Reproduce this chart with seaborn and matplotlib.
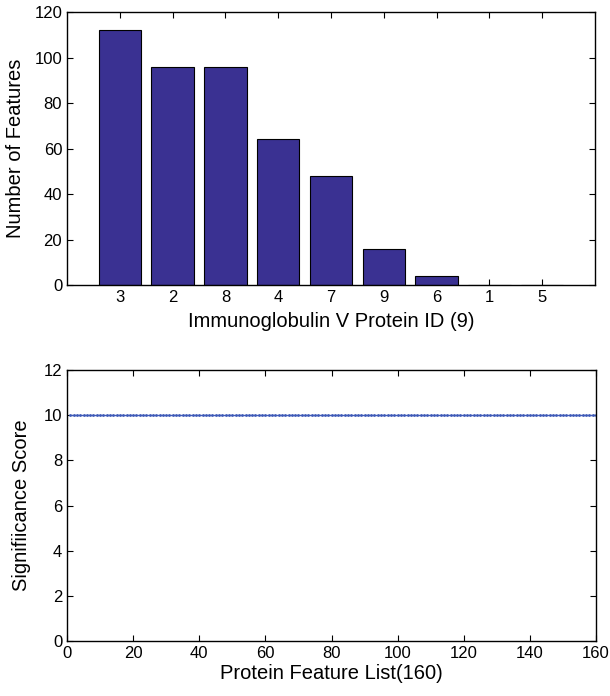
import matplotlib
matplotlib.use("Agg")
import matplotlib.pyplot as plt
import seaborn as sns
import numpy as np
import pandas as pd

sns.set_style("white")
plt.rcParams['font.family'] = ['Liberation Sans', 'DejaVu Sans']
plt.rcParams['axes.labelcolor'] = 'black'
plt.rcParams['text.color'] = 'black'

protein_ids = ["3", "2", "8", "4", "7", "9", "6", "1", "5"]
feature_counts = [112, 96, 96, 64, 48, 16, 4, 0, 0]

feature_index = list(range(1, 161))
significance = [10] * 160

bar_color = "#3A3192"
line_color = "#3F5BB8"

fig = plt.figure(figsize=(6.10, 6.96), dpi=100)
ax1 = fig.add_axes([67/610, 1 - 285/696, (595-67)/610, (285-12)/696])
ax2 = fig.add_axes([67/610, 1 - 641/696, (596-67)/610, (641-370)/696])

df1 = pd.DataFrame({"pos": np.arange(1, len(protein_ids) + 1), "count": feature_counts})
ax1.bar(df1["pos"], df1["count"], width=0.8, color=bar_color, edgecolor="black", linewidth=0.8)
ax1.set_xlim(0, 10)
ax1.set_ylim(0, 120)
ax1.set_xticks(df1["pos"])
ax1.set_xticklabels(protein_ids)
ax1.set_yticks(range(0, 121, 20))
ax1.set_xlabel("Immunoglobulin V Protein ID (9)", fontsize=14.5, labelpad=5, color="black")
ax1.set_ylabel("Number of Features", fontsize=14.5, labelpad=7, color="black")

df2 = pd.DataFrame({"x": feature_index, "y": significance})
sns.lineplot(data=df2, x="x", y="y", ax=ax2, color=line_color, linewidth=1.0,
             marker=".", markersize=4, markeredgewidth=0)
ax2.set_xlim(0, 160)
ax2.set_ylim(0, 12)
ax2.set_xticks(range(0, 161, 20))
ax2.set_yticks(range(0, 13, 2))
ax2.set_xlabel("Protein Feature List(160)", fontsize=14.5, labelpad=2, color="black")
ax2.set_ylabel("Signifiicance Score", fontsize=14.5, labelpad=9, color="black")

for ax in (ax1, ax2):
    for s in ax.spines.values():
        s.set_visible(True)
        s.set_color("black")
        s.set_linewidth(1.0)
    ax.tick_params(direction="in", length=4, width=0.8, top=True, right=True,
                   bottom=True, left=True, labelsize=12, colors="black")
    ax.grid(False)

fig.savefig("out.png", dpi=100, facecolor="white")
